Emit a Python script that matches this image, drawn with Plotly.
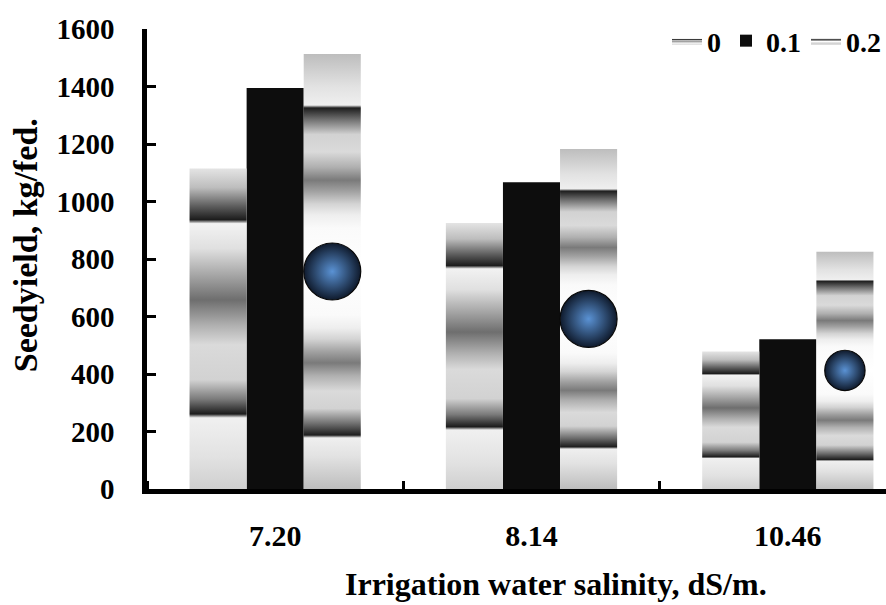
import plotly.graph_objects as go

# ---------------- data ----------------
categories = ["7.20", "8.14", "10.46"]
series_names = ["0", "0.1", "0.2"]
yield_0 = [1115, 925, 478]
yield_01 = [1395, 1067, 521]
yield_02 = [1513, 1183, 825]
y_ticks = [0, 200, 400, 600, 800, 1000, 1200, 1400, 1600]

# ---------------- styles ----------------
BAR_W = 0.2227
FONT = "Liberation Serif"
PLOT_H_PX = 460
Y_MAX = 1600
BAR_W_PX = 57

# horizontal-stripe fill (fraction measured from top of bar)
stripe_top = [(0.0, "#e4e4e4"), (0.06, "#bdbdbd"), (0.12, "#5a5a5a"), (0.160, "#1c1c1c"),
              (0.172, "#f2f2f2"), (0.25, "#e0e0e0"), (0.33, "#a8a8a8"), (0.41, "#6e6e6e"),
              (0.49, "#b0b0b0"), (0.55, "#dadada"), (0.66, "#d2d2d2"), (0.72, "#7a7a7a"),
              (0.766, "#1c1c1c"), (0.778, "#f0f0f0"), (0.90, "#e2e2e2"), (1.0, "#cfcfcf")]
stripe_scale = sorted([[round(1 - t, 4), c] for t, c in stripe_top])

# ring fill (fraction measured from bar centre towards top / bottom edge)
ring_d = [(0.0, "#ffffff"), (0.20, "#fafafa"), (0.26, "#eeeeee"), (0.31, "#d4d4d4"),
          (0.37, "#a0a0a0"), (0.42, "#7a7a7a"), (0.48, "#b0b0b0"), (0.55, "#dadada"),
          (0.63, "#d2d2d2"), (0.70, "#6e6e6e"), (0.752, "#1e1e1e"), (0.765, "#efefef"),
          (0.85, "#e2e2e2"), (1.0, "#bdbdbd")]
ring_scale = {}
for d, c in ring_d:
    ring_scale[round(0.5 + d / 2, 4)] = c
    ring_scale[round(0.5 - d / 2, 4)] = c
ring_scale = [[p, ring_scale[p]] for p in sorted(ring_scale)]

fig = go.Figure()


def add_bar_shapes(values, offset, name, scale):
    for i, v in enumerate(values):
        x0 = i + offset - BAR_W / 2
        x1 = i + offset + BAR_W / 2
        fig.add_trace(go.Scatter(
            x=[x0, x0, x1, x1], y=[0, v, v, 0],
            mode="lines", fill="toself", line=dict(width=0, color="rgba(0,0,0,0)"),
            fillgradient=dict(type="vertical", colorscale=scale, start=0, stop=v),
            name=name, legendgroup=name, showlegend=(i == 0), hoverinfo="skip"))


add_bar_shapes(yield_0, -BAR_W, series_names[0], stripe_scale)

fig.add_trace(go.Bar(
    x=list(range(len(categories))), y=yield_01, width=BAR_W, name=series_names[1],
    marker=dict(color="#0d0d0d", line=dict(width=0))))

add_bar_shapes(yield_02, BAR_W, series_names[2], ring_scale)

# blue centre disc of the 0.2 bars (radial gradient: gradient.color = centre colour)
fig.add_trace(go.Scatter(
    x=[i + BAR_W for i in range(len(categories))], y=[v / 2 for v in yield_02],
    mode="markers", showlegend=False, legendgroup=series_names[2], hoverinfo="skip",
    marker=dict(symbol="circle", color="#0f1a2c", opacity=1,
                size=[min(0.17 * v * PLOT_H_PX / Y_MAX, BAR_W_PX) for v in yield_02],
                gradient=dict(type="radial", color="#5a92d4"),
                line=dict(width=1.2, color="#080808"))))

fig.update_layout(
    width=886, height=605,
    margin=dict(l=147, r=0, t=29, b=116),
    plot_bgcolor="white", paper_bgcolor="white",
    font=dict(family=FONT, size=29, color="black", weight="bold"),
    showlegend=True,
    legend=dict(orientation="h", x=1.0, xanchor="right", y=0.974, yanchor="middle",
                font=dict(family=FONT, size=28, color="black", weight="bold"),
                bgcolor="rgba(0,0,0,0)", traceorder="normal"),
    xaxis=dict(range=[-0.5, 2.383], tickmode="array", tickvals=list(range(len(categories))),
               ticktext=categories, ticks="", showline=True, linewidth=4.5, linecolor="black",
               showgrid=False, zeroline=False, ticklabelstandoff=16,
               tickfont=dict(family=FONT, size=30, color="black", weight="bold"),
               minor=dict(tick0=-0.5, dtick=1, ticks="inside", ticklen=8, tickwidth=3,
                          tickcolor="black", showgrid=False)),
    yaxis=dict(range=[0, Y_MAX], tickmode="array", tickvals=y_ticks, ticks="inside",
               ticklen=9, tickwidth=2.5, tickcolor="black", showline=True, linewidth=4.5,
               linecolor="black", showgrid=False, zeroline=False, ticklabelstandoff=22,
               tickfont=dict(family=FONT, size=29, color="black", weight="bold")),
    annotations=[
        dict(text="Irrigation water salinity, dS/m.", xref="paper", yref="paper",
             x=0.5535, y=-0.164, xanchor="center", yanchor="top", showarrow=False,
             font=dict(family=FONT, size=32, color="black", weight="bold")),
        dict(text="Seedyield, kg/fed.", xref="paper", yref="paper", x=-0.165, y=0.530,
             xanchor="center", yanchor="middle", textangle=-90, showarrow=False,
             font=dict(family=FONT, size=34, color="black", weight="bold")),
    ],
)

fig.write_html("out.html", config={"displayModeBar": False},
               post_script="document.body.style.margin='0px';document.body.style.overflow='hidden';")
